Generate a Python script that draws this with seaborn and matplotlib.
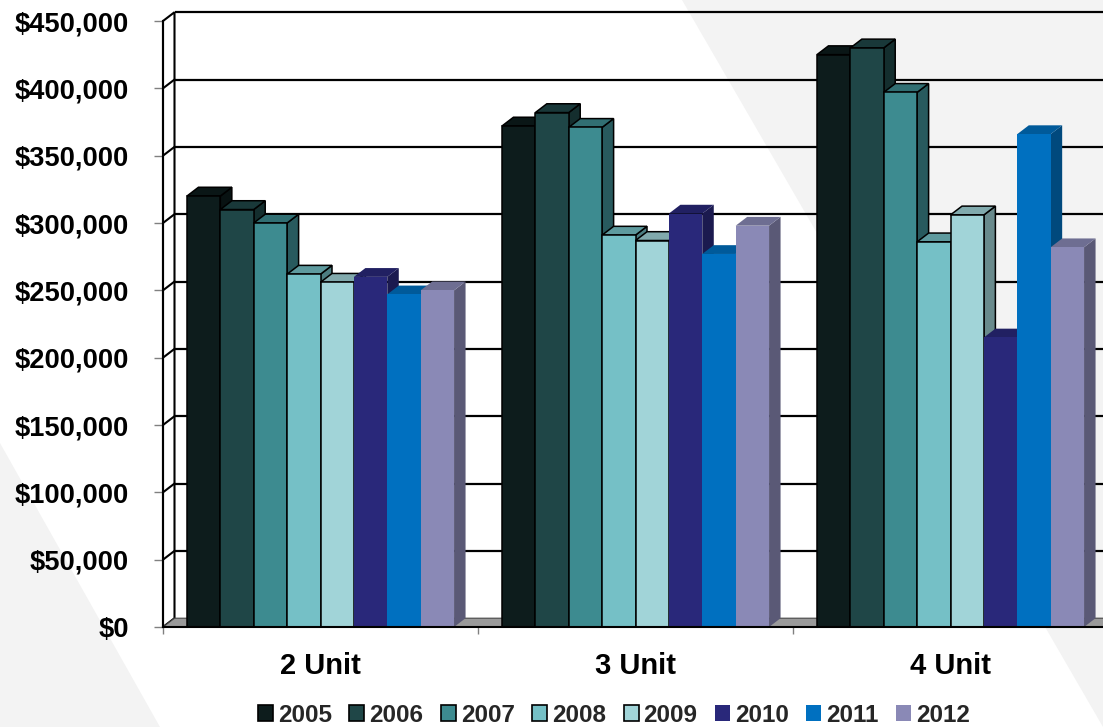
import numpy as np
import pandas as pd
import matplotlib
matplotlib.use("Agg")
import matplotlib.pyplot as plt
from matplotlib.patches import Polygon, Patch
from matplotlib.colors import to_rgb
from matplotlib.ticker import FuncFormatter, FixedLocator
import seaborn as sns

# ---- data -------------------------------------------------------------
categories = ["2 Unit", "3 Unit", "4 Unit"]
years = ["2005", "2006", "2007", "2008", "2009", "2010", "2011", "2012"]
price_2005 = [320000, 372000, 425000]
price_2006 = [310000, 382000, 430000]
price_2007 = [300000, 371000, 397000]
price_2008 = [262000, 291000, 286000]
price_2009 = [256000, 287000, 306000]
price_2010 = [260000, 307000, 215000]
price_2011 = [247000, 277000, 366000]
price_2012 = [250000, 298000, 282000]
series = [price_2005, price_2006, price_2007, price_2008,
          price_2009, price_2010, price_2011, price_2012]
y_ticks = [0, 50000, 100000, 150000, 200000, 250000, 300000, 350000, 400000, 450000]

year_colors = ["#0d1c1c", "#1f4647", "#3d8b90", "#75c0c6",
               "#a1d4d8", "#29287a", "#0070c0", "#8a89b6"]
outlined = [True, True, True, True, True, False, False, False]

rows = []
for yr, vals in zip(years, series):
    for cat, v in zip(categories, vals):
        rows.append({"Type": cat, "Year": yr, "Price": v})
df = pd.DataFrame(rows)

# ---- style ------------------------------------------------------------
sns.set_theme(style="white")
plt.rcParams["font.family"] = ["Liberation Sans", "DejaVu Sans"]
plt.rcParams["font.weight"] = "bold"

W, H = 1103, 727
fig = plt.figure(figsize=(W / 100, H / 100), dpi=100)
fig.patch.set_facecolor("white")

# soft grey background wedges of the slide
bg = "#f3f3f3"
fig.patches.append(Polygon([(682 / W, 1), (1, 1), (1, 0)], closed=True,
                           transform=fig.transFigure, facecolor=bg,
                           edgecolor="none", zorder=-5))
fig.patches.append(Polygon([(0, 1 - 443 / H), (0, 0), (160 / W, 0)], closed=True,
                           transform=fig.transFigure, facecolor=bg,
                           edgecolor="none", zorder=-5))

ax = fig.add_axes([163 / W, 100 / H, 945 / W, 606 / H])
ax.set_facecolor("none")
ax.set_zorder(1)

sns.barplot(data=df, x="Type", y="Price", hue="Year", order=categories,
            hue_order=years, palette=year_colors, width=0.848, saturation=1,
            gap=0, legend=False, ax=ax, zorder=3)

ax.set_xlim(-0.5, 2.5)
ax.set_ylim(0, 450000)

# depth of the 3-D projection, in pixels (right, up)
inv = ax.transData.inverted()
p0 = inv.transform((0, 0))
p1 = inv.transform((11.5, 8.8))
ddx, ddy = p1[0] - p0[0], p1[1] - p0[1]


def shade(c, f):
    r, g, b = to_rgb(c)
    return (r * f, g * f, b * f)


# ---- back wall, side wall, floor -------------------------------------
x_left, x_right = -0.5, 2.6
for t in y_ticks[1:]:
    ax.plot([x_left + ddx, x_right + ddx], [t + ddy, t + ddy], color="black",
            lw=1.6, zorder=1, clip_on=False, solid_capstyle="butt")

ax.add_patch(Polygon([(x_left, 0), (x_left, 450000),
                      (x_left + ddx, 450000 + ddy), (x_left + ddx, ddy)],
                     closed=True, facecolor="white", edgecolor="black",
                     lw=1.5, zorder=1.5, clip_on=False))
for t in y_ticks[1:-1]:
    ax.plot([x_left, x_left + ddx], [t, t + ddy], color="black", lw=1.5,
            zorder=1.6, clip_on=False)
ax.add_patch(Polygon([(x_left, 0), (x_right, 0), (x_right + ddx, ddy),
                      (x_left + ddx, ddy)], closed=True, facecolor="#9a9a9a",
                     edgecolor="#444444", lw=0.8, zorder=1.7, clip_on=False))

# ---- 3-D bar faces ----------------------------------------------------
for k, container in enumerate(ax.containers):
    col = year_colors[k]
    ec = "black" if outlined[k] else "none"
    lw = 1.1 if outlined[k] else 0
    for bar in container:
        x0 = bar.get_x()
        w = bar.get_width()
        h = bar.get_height()
        x1 = x0 + w
        bar.set_edgecolor(ec)
        bar.set_linewidth(lw)
        bar.set_zorder(3 + k * 0.01 + 0.005)
        side = Polygon([(x1, 0), (x1, h), (x1 + ddx, h + ddy), (x1 + ddx, ddy)],
                       closed=True, facecolor=shade(col, 0.65), edgecolor=ec,
                       lw=lw, zorder=3 + k * 0.01, clip_on=False)
        top = Polygon([(x0, h), (x1, h), (x1 + ddx, h + ddy), (x0 + ddx, h + ddy)],
                      closed=True, facecolor=shade(col, 0.8), edgecolor=ec,
                      lw=lw, zorder=3 + k * 0.01, clip_on=False)
        ax.add_patch(side)
        ax.add_patch(top)

# ---- axes, ticks, labels ---------------------------------------------
for s in ["top", "right"]:
    ax.spines[s].set_visible(False)
ax.spines["left"].set_color("black")
ax.spines["left"].set_linewidth(1.5)
ax.spines["left"].set_zorder(2)
ax.spines["bottom"].set_color("black")
ax.spines["bottom"].set_linewidth(1.5)
ax.spines["bottom"].set_zorder(5)

ax.set_yticks(y_ticks)
ax.yaxis.set_major_formatter(FuncFormatter(lambda v, p: f"${v:,.0f}"))
ax.tick_params(axis="y", which="major", length=6.5, width=1, color="#808080",
               pad=18, labelsize=19.6, labelcolor="black", left=True)

ax.xaxis.set_minor_locator(FixedLocator([-0.5, 0.5, 1.5, 2.5]))
ax.tick_params(axis="x", which="minor", length=5, width=1, color="#808080",
               bottom=True)
ax.tick_params(axis="x", which="major", length=0, pad=18, labelsize=21,
               labelcolor="black")
for lab in ax.get_xticklabels() + ax.get_yticklabels():
    lab.set_fontweight("bold")

ax.set_xlabel("")
ax.set_ylabel("")

# ---- legend -----------------------------------------------------------
handles = [Patch(facecolor=c, edgecolor=("black" if o else c),
                 linewidth=(1.2 if o else 0)) for c, o in zip(year_colors, outlined)]
fig.legend(handles, years, loc="center", bbox_to_anchor=(614 / W, 1 - 715 / H),
           ncol=8, frameon=False, prop={"size": 17.5, "weight": "bold"},
           handlelength=0.62, handleheight=0.62, handletextpad=0.2,
           columnspacing=0.72, borderpad=0, borderaxespad=0)

fig.savefig("out.png", dpi=100)
